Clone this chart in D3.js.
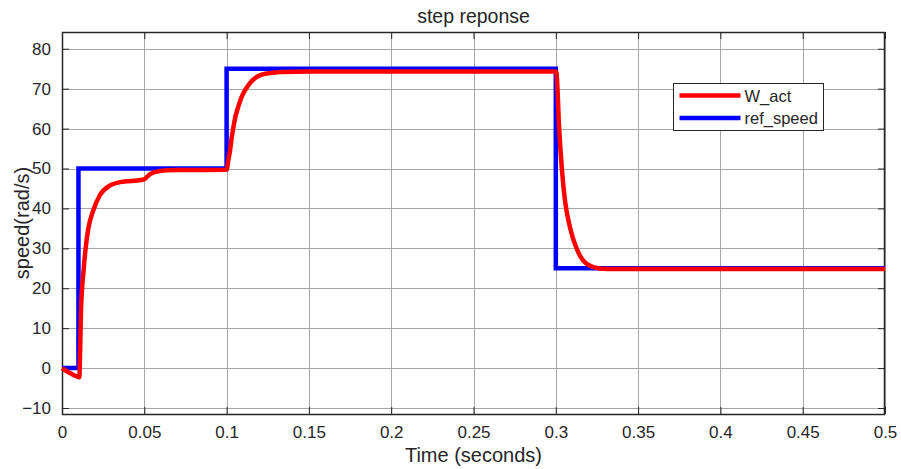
<!DOCTYPE html>
<html>
<head>
<meta charset="utf-8">
<script src="https://cdn.jsdelivr.net/npm/d3@7"></script>
<style>
  body { margin: 0; background: #fff; }
  svg text { font-family: "Liberation Sans", Arial, sans-serif; fill: #262626; }
</style>
</head>
<body>
<svg id="chart" width="901" height="469"></svg>
<script>
// step times / levels
const refT = [0, 0.01, 0.01, 0.1, 0.1, 0.3, 0.3, 0.5]
const refV = [0, 0, 50, 50, 75, 75, 25, 25]

const actT = [0, 0.003, 0.006, 0.009, 0.0105, 0.011, 0.0115, 0.013, 0.0145, 0.016, 0.019, 0.023, 0.029, 0.037, 0.048,
  0.05, 0.0535, 0.0595, 0.07, 0.1,
  0.1005, 0.101, 0.1021, 0.103, 0.1041, 0.1055, 0.1071, 0.109, 0.1112, 0.1135, 0.116, 0.1213, 0.128, 0.1335, 0.15, 0.3,
  0.3004, 0.302, 0.3036, 0.3056, 0.3086, 0.3127, 0.3167, 0.3228, 0.331, 0.5]
const actV = [0, -0.8, -1.5, -2.1, -2.3, 4, 14, 24, 30.5, 35, 39.5, 43.3, 45.7, 46.7, 47.1,
  47.3, 48.6, 49.4, 49.6, 49.7,
  50.5, 52, 54.5, 57.5, 60.3, 63.2, 65.5, 67.8, 69.6, 71, 72.2, 73.5, 74, 74.2, 74.3, 74.3,
  74.0, 60.3, 50.3, 41.9, 35.3, 29.9, 26.9, 25.3, 24.8, 24.8]

const xTicks = [0, 0.05, 0.1, 0.15, 0.2, 0.25, 0.3, 0.35, 0.4, 0.45, 0.5]
const yTicks = [-10, 0, 10, 20, 30, 40, 50, 60, 70, 80]
const legendNames = ['W_act', 'ref_speed']
const legendColors = ['#ff0000', '#0000ff']

const margin = {left: 62, right: 16, top: 32, bottom: 55}
const W = 901, H = 469
const svg = d3.select('#chart')

const x = d3.scaleLinear().domain([0, 0.5]).range([margin.left, W - margin.right])
const y = d3.scaleLinear().domain([-11.5, 84.2]).range([H - margin.bottom, margin.top])

const x0 = x.range()[0], x1 = x.range()[1]
const y0 = y.range()[0], y1 = y.range()[1]

// grid
const grid = svg.append('g').attr('stroke', '#a6a6a6').attr('stroke-width', 1)
grid.selectAll('.gx').data(xTicks).enter().append('line')
  .attr('x1', d => Math.round(x(d)) + 0.5).attr('x2', d => Math.round(x(d)) + 0.5)
  .attr('y1', y1).attr('y2', y0)
grid.selectAll('.gy').data(yTicks).enter().append('line')
  .attr('y1', d => Math.round(y(d)) + 0.5).attr('y2', d => Math.round(y(d)) + 0.5)
  .attr('x1', x0).attr('x2', x1)

// axes, ticks inward on all four sides
const fmtX = d => d === 0 ? '0' : String(+d.toFixed(2))
const axBottom = svg.append('g').attr('transform', `translate(0,${y0})`)
  .call(d3.axisBottom(x).tickValues(xTicks).tickFormat(fmtX).tickSizeInner(-7).tickSizeOuter(0).tickPadding(12))
const axTop = svg.append('g').attr('transform', `translate(0,${y1})`)
  .call(d3.axisTop(x).tickValues(xTicks).tickFormat('').tickSizeInner(-7).tickSizeOuter(0))
const axLeft = svg.append('g').attr('transform', `translate(${x0},0)`)
  .call(d3.axisLeft(y).tickValues(yTicks).tickSizeInner(-7).tickSizeOuter(0).tickPadding(11))
const axRight = svg.append('g').attr('transform', `translate(${x1},0)`)
  .call(d3.axisRight(y).tickValues(yTicks).tickFormat('').tickSizeInner(-7).tickSizeOuter(0))

for (const g of [axBottom, axTop, axLeft, axRight]) {
  g.select('.domain').remove()
  g.selectAll('line').attr('stroke', '#262626')
  g.selectAll('text').attr('font-size', 17).attr('fill', '#262626')
}

svg.append('rect')
  .attr('x', x0 + 0.5).attr('y', y1 + 0.5)
  .attr('width', x1 - x0 - 1).attr('height', y0 - y1)
  .attr('fill', 'none').attr('stroke', '#262626').attr('stroke-width', 1.5)

// series
const refData = refT.map((t, i) => [t, refV[i]])
const actData = actT.map((t, i) => [t, actV[i]])

const plot = svg.append('g')
plot.append('path').datum(refData)
  .attr('fill', 'none').attr('stroke', '#0000ff').attr('stroke-width', 4.5)
  .attr('d', d3.line().x(d => x(d[0])).y(d => y(d[1])))
plot.append('path').datum(actData)
  .attr('fill', 'none').attr('stroke', '#ff0000').attr('stroke-width', 4.5)
  .attr('stroke-linejoin', 'round')
  .attr('d', d3.line().x(d => x(d[0])).y(d => y(d[1])).curve(d3.curveMonotoneX))

// titles
svg.append('text').attr('x', (x0 + x1) / 2).attr('y', 23)
  .attr('text-anchor', 'middle').attr('font-size', 19.5).text('step reponse')
svg.append('text').attr('x', (x0 + x1) / 2).attr('y', 462)
  .attr('text-anchor', 'middle').attr('font-size', 20).text('Time (seconds)')
svg.append('text')
  .attr('transform', `translate(29,${(y0 + y1) / 2}) rotate(-90)`)
  .attr('text-anchor', 'middle').attr('font-size', 20).text('speed(rad/s)')

// legend
const lg = svg.append('g').attr('transform', 'translate(673.5,83.5)')
lg.append('rect').attr('width', 150).attr('height', 47)
  .attr('fill', '#fff').attr('stroke', '#262626').attr('stroke-width', 1)
legendNames.forEach((name, i) => {
  const yy = 12 + i * 22.5
  lg.append('line').attr('x1', 6).attr('x2', 67).attr('y1', yy).attr('y2', yy)
    .attr('stroke', legendColors[i]).attr('stroke-width', 4.5)
  lg.append('text').attr('x', 71).attr('y', yy + 6).attr('font-size', 16.5).text(name)
})
</script>
</body>
</html>
